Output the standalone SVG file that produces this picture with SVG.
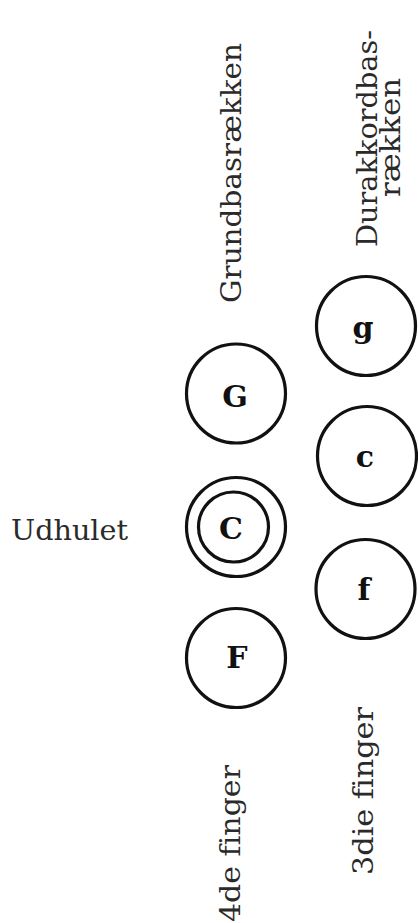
<svg xmlns="http://www.w3.org/2000/svg" width="418" height="923" viewBox="0 0 418 923">
<style>
.btn{fill:none;stroke:#111;stroke-width:3.2}
.key{font-family:"DejaVu Serif","Liberation Serif",serif;font-weight:bold;font-size:30px;fill:#111;text-anchor:middle}
.lbl{font-family:"DejaVu Serif","Liberation Serif",serif;font-size:28px;fill:#2a2a2a;text-anchor:middle;font-variant-ligatures:none;font-feature-settings:"liga" 0,"clig" 0}
</style>
<rect width="418" height="923" fill="#fff"/>
<g id="connectors"/>
<g id="node-G"><circle class="btn" cx="236" cy="393.5" r="49.5"/><text class="key" x="235" y="407">G</text></g>
<g id="node-C"><circle class="btn" cx="236" cy="527" r="49.5"/><circle class="btn" cx="233.5" cy="527" r="35"/><text class="key" x="231" y="538.5">C</text></g>
<g id="node-F"><circle class="btn" cx="236" cy="658" r="49.5"/><text class="key" x="237" y="668">F</text></g>
<g id="node-g"><circle class="btn" cx="366" cy="326" r="49.5"/><text class="key" x="363" y="338">g</text></g>
<g id="node-c"><circle class="btn" cx="367" cy="456" r="49.5"/><text class="key" x="365" y="467">c</text></g>
<g id="node-f"><circle class="btn" cx="365.5" cy="589" r="49.5"/><text class="key" x="364" y="600">f</text></g>
<g id="label-udhulet"><text class="lbl" x="69.5" y="540" textLength="117" lengthAdjust="spacingAndGlyphs">Udhulet</text></g>
<g id="label-grundbas"><text class="lbl" transform="translate(241,173) rotate(-90)" textLength="260" lengthAdjust="spacingAndGlyphs">Grundbasrækken</text></g>
<g id="label-durakkord"><text class="lbl" transform="translate(377,138.5) rotate(-90)" textLength="217" lengthAdjust="spacingAndGlyphs">Durakkordbas-</text><text class="lbl" transform="translate(400,137.5) rotate(-90)" textLength="119" lengthAdjust="spacingAndGlyphs">rækken</text></g>
<g id="label-4de"><text class="lbl" transform="translate(240,843.5) rotate(-90)" textLength="157" lengthAdjust="spacingAndGlyphs">4de finger</text></g>
<g id="label-3die"><text class="lbl" transform="translate(373,791) rotate(-90)" textLength="168" lengthAdjust="spacingAndGlyphs">3die finger</text></g>
</svg>
